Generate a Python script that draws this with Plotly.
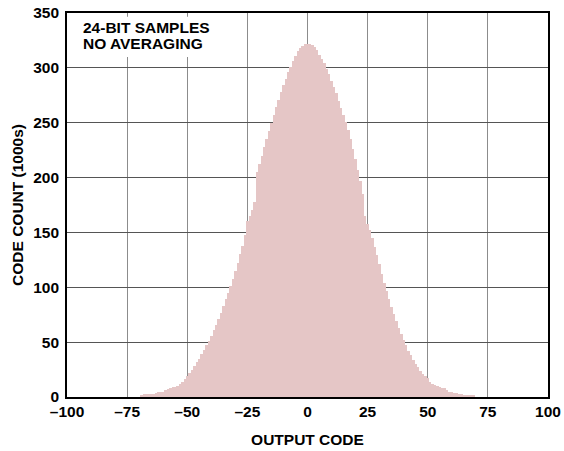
import plotly.graph_objects as go

# Output codes (bin centers) and counts in thousands
codes = list(range(-69, 70))
counts = [
    2, 3, 3, 3, 3, 3, 4, 5, 5, 5,          # -69 .. -60
    6, 7, 8, 9, 9, 10, 12, 14, 16, 19,     # -59 .. -50
    22, 25, 28, 32, 35, 39, 43, 47, 51, 56,  # -49 .. -40
    61, 66, 71, 77, 83, 89, 95, 101, 108, 115,  # -39 .. -30
    122, 130, 138, 148, 160, 165, 170, 178, 205, 212,  # -29 .. -20
    220, 228, 235, 242, 250, 257, 264, 271, 278, 284,  # -19 .. -10
    290, 296, 301, 306, 311, 315, 318, 320, 322, 322,  # -9 .. 0
    322, 321, 319, 316, 312, 308, 304, 299, 294, 288,  # 1 .. 10
    283, 277, 270, 263, 257, 251, 243, 235, 226, 217,  # 11 .. 20
    207, 197, 185, 165, 158, 152, 145, 137, 129, 121,  # 21 .. 30
    112, 104, 97, 89, 82, 76, 69, 63, 57, 52,  # 31 .. 40
    47, 42, 38, 34, 30, 27, 24, 21, 19, 17,    # 41 .. 50
    14, 12, 11, 10, 9, 8, 8, 6, 5, 5,          # 51 .. 60
    4, 4, 3, 3, 2, 2, 2, 2, 2,                 # 61 .. 69
]

x_ticks = [-100, -75, -50, -25, 0, 25, 50, 75, 100]
y_ticks = [0, 50, 100, 150, 200, 250, 300, 350]
note_lines = ["24-BIT SAMPLES", "NO AVERAGING"]

FONT = "Liberation Sans, Arial, sans-serif"
TICK_SIZE = 15.5

fig = go.Figure()
fig.add_trace(go.Bar(
    x=codes, y=counts, width=1,
    marker=dict(color="#E5C6C6", line=dict(width=0)),
    hoverinfo="skip",
))

fig.update_layout(
    width=564, height=451,
    margin=dict(l=67, r=16, t=13, b=54),
    paper_bgcolor="white", plot_bgcolor="white",
    bargap=0, showlegend=False,
    font=dict(family=FONT, color="black", size=14),
)

x_text = [("\u2013" + str(-v)) if v < 0 else str(v) for v in x_ticks]
fig.update_xaxes(
    range=[-100, 100], tickvals=x_ticks, ticktext=["<b>" + t + "</b>" for t in x_text],
    showgrid=True, gridcolor="#8c8c8c", gridwidth=1.2,
    zeroline=False, showline=True, linecolor="black", linewidth=1.6, mirror=True,
    ticks="", ticklen=0, automargin=False,
    tickfont=dict(family=FONT, size=TICK_SIZE, color="black"),
    title=dict(text="<b>OUTPUT CODE</b>", font=dict(family=FONT, size=15.5), standoff=15),
)
fig.update_yaxes(
    range=[0, 350], tickvals=y_ticks, ticktext=["<b>%d</b>" % v for v in y_ticks],
    showgrid=True, gridcolor="#555555", gridwidth=1.2,
    zeroline=False, showline=True, linecolor="black", linewidth=1.6, mirror=True,
    ticks="", ticklen=0, automargin=False, ticklabelstandoff=3,
    tickfont=dict(family=FONT, size=TICK_SIZE, color="black"),
    title=dict(text="<b>CODE COUNT (1000s)</b>", font=dict(family=FONT, size=15.5), standoff=6),
)

# white box behind the note (interrupts vertical grid lines)
fig.add_shape(type="rect", xref="x", yref="y", x0=-97, x1=-40, y0=310, y1=346.5,
              fillcolor="white", line=dict(width=0), layer="above")
for i, line in enumerate(note_lines):
    fig.add_annotation(xref="x", yref="y", x=-94.3, y=336.5 - 14.3 * i,
                       text="<b>" + line + "</b>", showarrow=False,
                       xanchor="left", yanchor="middle",
                       font=dict(family=FONT, size=15.5, color="black"))

fig.write_html("out.html", config={"displayModeBar": False},
               post_script="document.body.style.margin='0';document.body.style.padding='0';")
